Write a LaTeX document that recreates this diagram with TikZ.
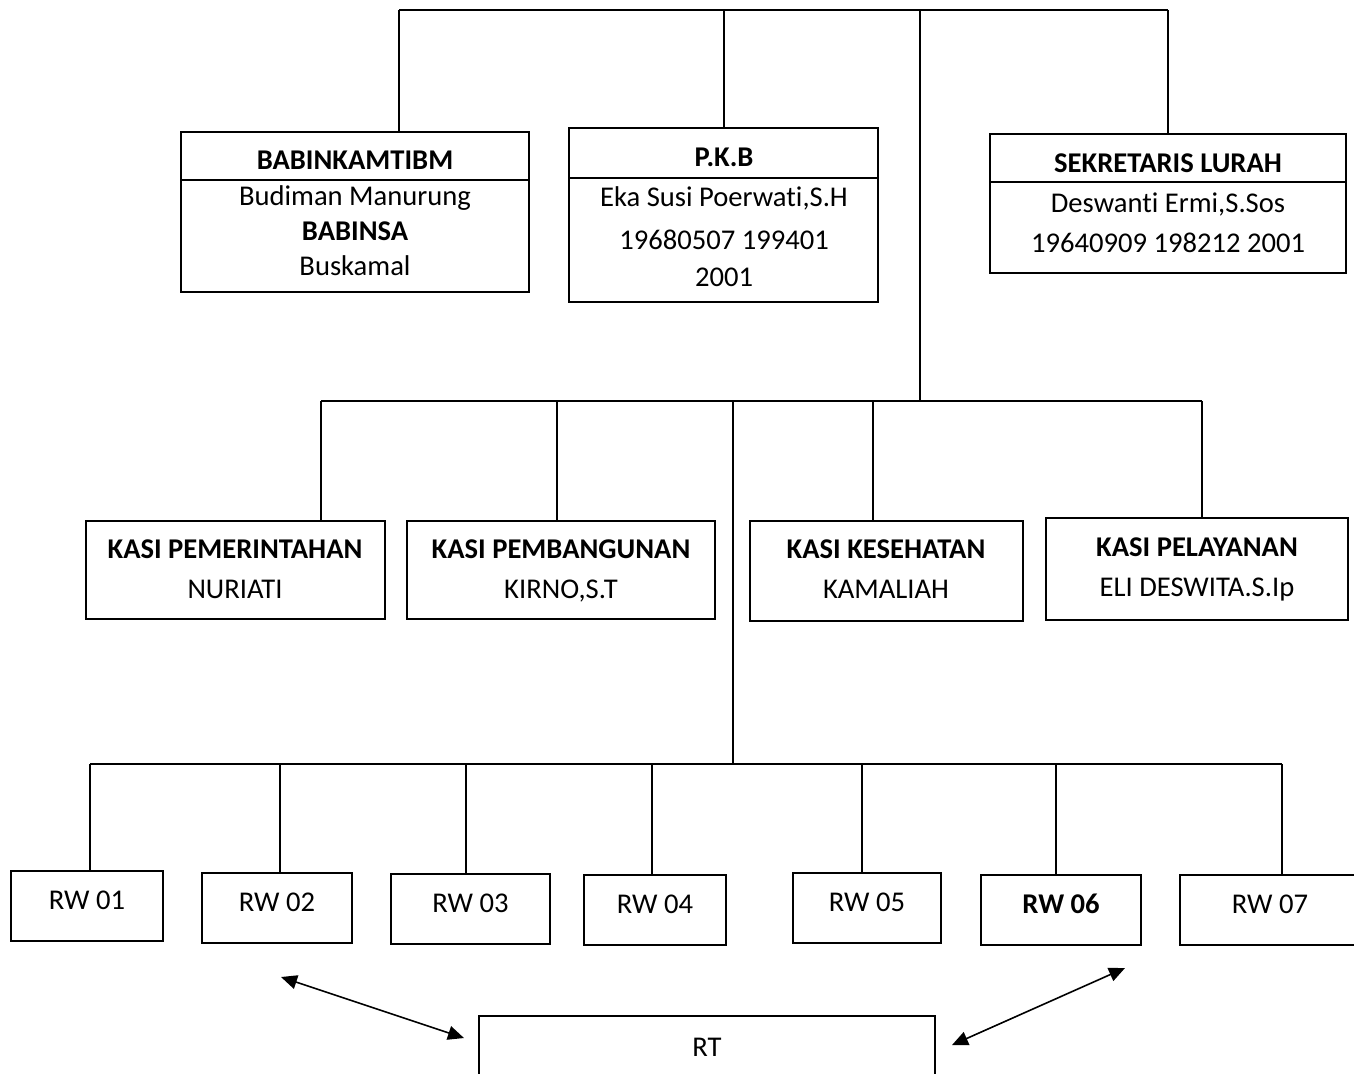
\documentclass[tikz,border=0pt]{standalone}
\usepackage{fontspec}
\setmainfont{Carlito}[Ligatures=NoCommon]
\usepackage{tikz}
\usetikzlibrary{arrows.meta}

\begin{document}
\begin{tikzpicture}[x=0.5pt, y=-0.5pt, line width=0.8pt, >={Triangle[length=8pt, width=7pt]},
    every node/.style={font=\fontsize{14.3}{17}\selectfont},
    box/.style={draw, line width=1pt, inner sep=0pt},
    txt/.style={inner sep=0pt, text height=9pt, text depth=0pt},
    rw/.style={box, minimum height=35pt, text height=9pt, text depth=6pt}]
    \useasboundingbox (0,0) rectangle (1354,1073);
    \clip (0,0) rectangle (1354,1073);
    % Top row
    \node[box, minimum width=174pt, minimum height=80pt] (bab) at (355,212) {};
    \node[box, minimum width=154.5pt, minimum height=87pt] (pkb) at (723.5,215) {};
    \node[box, minimum width=178pt, minimum height=69.5pt] (sek) at (1168,203.5) {};
    \draw[line width=1pt] (bab.west |- 0,180) -- (bab.east |- 0,180);
    \draw[line width=1pt] (pkb.west |- 0,178) -- (pkb.east |- 0,178);
    \draw[line width=1pt] (sek.west |- 0,182) -- (sek.east |- 0,182);
    \node[txt] (babT) at (355,160) {\textbf{BABINKAMTIBM}};
    \node[txt] (babA) at (355,196) {Budiman Manurung};
    \node[txt] (babB) at (355,231) {\textbf{BABINSA}};
    \node[txt] (babC) at (355,266) {Buskamal};
    \node[txt] (pkbT) at (724,157) {\textbf{P.K.B}};
    \node[txt] (pkbA) at (724,197) {Eka Susi Poerwati,S.H};
    \node[txt] (pkbB) at (724,240) {19680507 199401};
    \node[txt] (pkbC) at (724,277) {2001};
    \node[txt] (sekT) at (1168,163) {\textbf{SEKRETARIS LURAH}};
    \node[txt] (sekA) at (1168,203) {Deswanti Ermi,S.Sos};
    \node[txt] (sekB) at (1168,243) {19640909 198212 2001};
    % Middle row
    \node[box, minimum width=149.5pt, minimum height=49pt] (kpem) at (235.5,570) {};
    \node[box, minimum width=154pt, minimum height=49pt] (kbang) at (561,570) {};
    \node[box, minimum width=136.5pt, minimum height=50pt] (kkes) at (886.5,571) {};
    \node[box, minimum width=151pt, minimum height=51pt] (kpel) at (1197,569) {};
    \node[txt] (kpemT) at (235,549) {\textbf{KASI PEMERINTAHAN}};
    \node[txt] (kpemA) at (235,589) {NURIATI};
    \node[txt] (kbangT) at (561,549) {\textbf{KASI PEMBANGUNAN}};
    \node[txt] (kbangA) at (561,589) {KIRNO,S.T};
    \node[txt] (kkesT) at (886,549) {\textbf{KASI KESEHATAN}};
    \node[txt] (kkesA) at (886,589) {KAMALIAH};
    \node[txt] (kpelT) at (1197,547) {\textbf{KASI PELAYANAN}};
    \node[txt] (kpelA) at (1197,587) {ELI DESWITA.S.Ip};
    % Bottom row
    \node[rw, minimum width=76pt] (rw1) at (87,906) {RW 01};
    \node[rw, minimum width=75pt] (rw2) at (277,908) {RW 02};
    \node[rw, minimum width=79.5pt] (rw3) at (470.5,909) {RW 03};
    \node[rw, minimum width=71pt] (rw4) at (655,910) {RW 04};
    \node[rw, minimum width=74pt] (rw5) at (867,908) {RW 05};
    \node[rw, minimum width=80pt] (rw6) at (1061,910) {\textbf{RW 06}};
    \node[rw, minimum width=90pt] (rw7) at (1270,910) {RW 07};
    \node[rw, minimum width=228pt, minimum height=37pt] (rt) at (707,1053) {RT};
    % Lines
    \coordinate (top1) at (399,10);
    \coordinate (top2) at (724,10);
    \coordinate (top3) at (920,10);
    \coordinate (top4) at (1168,10);
    \coordinate (mid0) at (920,401);
    \coordinate (mid1) at (321,401);
    \coordinate (mid2) at (557,401);
    \coordinate (mid3) at (733,401);
    \coordinate (mid4) at (873,401);
    \coordinate (mid5) at (1202,401);
    \coordinate (low0) at (733,764);
    \coordinate (low1) at (90,764);
    \coordinate (low2) at (280,764);
    \coordinate (low3) at (466,764);
    \coordinate (low4) at (652,764);
    \coordinate (low5) at (862,764);
    \coordinate (low6) at (1056,764);
    \coordinate (low7) at (1282,764);
    \draw (top1) -- (top4);
    \draw (top1) -- (top1 |- bab.north);
    \draw (top2) -- (top2 |- pkb.north);
    \draw (top3) -- (mid0);
    \draw (top4) -- (top4 |- sek.north);
    \draw (mid1) -- (mid5);
    \draw (mid1) -- (mid1 |- kpem.north);
    \draw (mid2) -- (mid2 |- kbang.north);
    \draw (mid3) -- (low0);
    \draw (mid4) -- (mid4 |- kkes.north);
    \draw (mid5) -- (mid5 |- kpel.north);
    \draw (low1) -- (low7);
    \draw (low1) -- (low1 |- rw1.north);
    \draw (low2) -- (low2 |- rw2.north);
    \draw (low3) -- (low3 |- rw3.north);
    \draw (low4) -- (low4 |- rw4.north);
    \draw (low5) -- (low5 |- rw5.north);
    \draw (low6) -- (low6 |- rw6.north);
    \draw (low7) -- (low7 |- rw7.north);
    % Arrows to RT
    \coordinate (arrA) at (281,977);
    \coordinate (arrB) at (464,1038);
    \coordinate (arrC) at (1125,968);
    \coordinate (arrD) at (952,1045);
    \draw[<->] (arrA) -- (arrB);
    \draw[<->] (arrC) -- (arrD);
\end{tikzpicture}
\end{document}
